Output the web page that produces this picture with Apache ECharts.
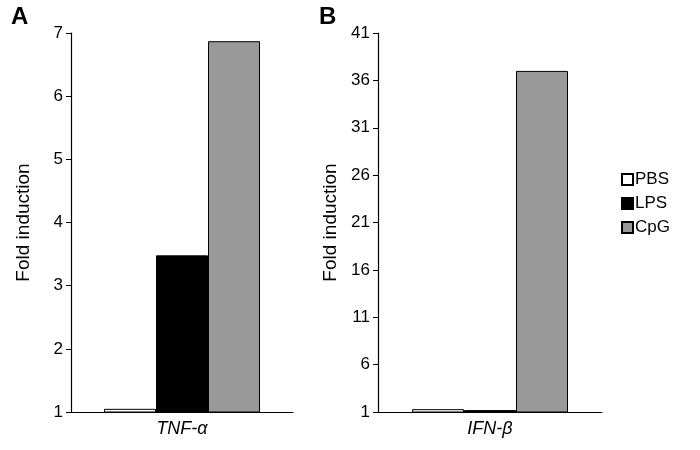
<!DOCTYPE html>
<html>
<head>
<meta charset="utf-8">
<script src="https://cdn.jsdelivr.net/npm/echarts@6/dist/echarts.min.js"></script>
<style>html,body{margin:0;padding:0;background:#fff}#main{width:700px;height:450px}</style>
</head>
<body>
<div id="main"></div>
<script>
var groups = ['PBS', 'LPS', 'CpG'];
var colors = ['#ffffff', '#000000', '#999999'];
var tnfValues = [1.05, 3.48, 6.87];
var ifnValues = [1.3, 1.2, 37.0];
var tnfLabel = ['TNF-α'];
var ifnLabel = ['IFN-β'];

var font = 'Liberation Sans, Arial, sans-serif';
var chart = echarts.init(document.getElementById('main'));

function yAxis(idx, min, max, interval) {
    return {
        gridIndex: idx, type: 'value', min: min, max: max, interval: interval,
        name: 'Fold induction', nameLocation: 'middle', nameGap: 38,
        nameTextStyle: { fontSize: 19, color: '#000', fontFamily: font },
        axisLine: { show: true, lineStyle: { color: '#000', width: 1.2 } },
        axisTick: { show: true, length: 5, lineStyle: { color: '#000' } },
        axisLabel: { fontSize: 17, color: '#000', fontFamily: font, margin: 8 },
        splitLine: { show: false }
    };
}
function xAxis(idx, labels) {
    return {
        gridIndex: idx, type: 'category', data: labels,
        axisLine: { lineStyle: { color: '#000', width: 1.2 } },
        axisTick: { show: false },
        axisLabel: { fontSize: 18, color: '#000', fontStyle: 'italic', fontFamily: font, margin: 8 }
    };
}

var series = [];
groups.forEach(function (g, i) {
    [tnfValues, ifnValues].forEach(function (vals, k) {
        series.push({
            name: g, type: 'bar', xAxisIndex: k, yAxisIndex: k,
            data: [vals[i]], barWidth: 52, barGap: '0%',
            itemStyle: { color: colors[i], borderColor: '#000', borderWidth: 1 }
        });
    });
});

chart.setOption({
    animation: false,
    title: [
        { text: 'A', left: 6, top: 0, textStyle: { fontSize: 24, fontWeight: 'bold', fontFamily: font, color: '#000' } },
        { text: 'B', left: 314, top: 0, textStyle: { fontSize: 24, fontWeight: 'bold', fontFamily: font, color: '#000' } }
    ],
    legend: {
        orient: 'vertical', left: 616, top: 166, itemWidth: 11, itemHeight: 11, itemGap: 7,
        icon: 'rect',
        data: groups,
        textStyle: { fontSize: 17, color: '#000', fontFamily: font, padding: [0, 0, 0, -3] }
    },
    grid: [
        { left: 71, width: 222, top: 33, bottom: 38 },
        { left: 378, width: 224, top: 33, bottom: 38 }
    ],
    xAxis: [xAxis(0, tnfLabel), xAxis(1, ifnLabel)],
    yAxis: [yAxis(0, 1, 7, 1), yAxis(1, 1, 41, 5)],
    series: series
});
</script>
</body>
</html>
